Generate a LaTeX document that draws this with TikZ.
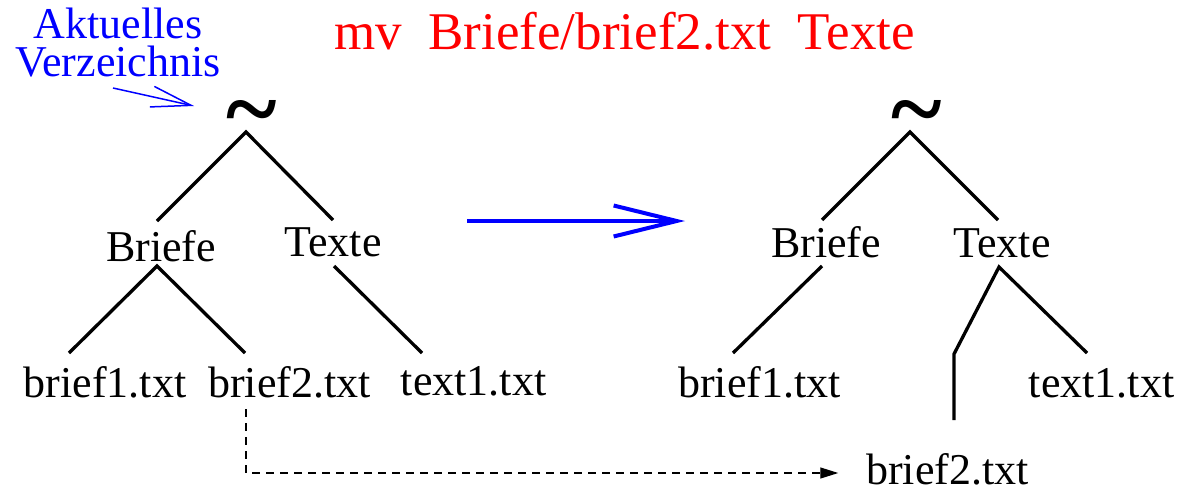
\documentclass[tikz,border=0pt]{standalone}
\usepackage{fontspec}
\setmainfont{Liberation Serif}
\usetikzlibrary{arrows.meta}
\begin{document}
\begin{tikzpicture}[x=1pt,y=-1pt,
  lbl/.style={anchor=base,inner sep=0pt,outer sep=0pt,font=\fontsize{44}{44}\selectfont},
  home/.style={anchor=base,inner sep=0pt,outer sep=0pt,font=\fontsize{97}{97}\selectfont\bfseries},
  branch/.style={line width=3.3pt},
  moved/.style={dashed,line width=1.2pt,dash pattern=on 8pt off 6pt,-{Triangle[length=18pt,width=11pt]}},
  cmdarrow/.style={blue,line width=4pt,-{Straight Barb[length=63pt,width=31pt]}},
  cwdarrow/.style={blue,line width=1.5pt,-{Straight Barb[length=40pt,width=21pt]}}]
\useasboundingbox (0,0) rectangle (1183,490);

% command line
\node[lbl,red,font=\fontsize{53}{53}\selectfont] (cmd) at (624.5,49) {mv~~Briefe/brief2.txt~~Texte};

% label for the working directory
\node[lbl,blue,align=center,font=\fontsize{44}{38}\selectfont] (cwd) at (118,76) {Aktuelles\\Verzeichnis};

% tree before the move
\node[home] (lt) at (252,141) {\textasciitilde};
\node[lbl] (lB) at (161,261) {Briefe};
\node[lbl] (lT) at (333,256) {Texte};
\node[lbl] (lb1) at (105,397) {brief1.txt};
\node[lbl] (lb2) at (289.5,397) {brief2.txt};
\node[lbl] (lt1) at (473.5,395) {text1.txt};

\draw[branch] ([shift={(-4pt,40pt)}]lB.base) -- ([shift={(-6pt,9pt)}]lt.base) -- ([shift={(0pt,36pt)}]lT.base);
\draw[branch] ([shift={(-36pt,44pt)}]lb1.base) -- ([shift={(-4pt,-5pt)}]lB.base) -- ([shift={(-44.5pt,44pt)}]lb2.base);
\draw[branch] ([shift={(1pt,-10pt)}]lT.base) -- ([shift={(-51.5pt,42pt)}]lt1.base);

\draw[cwdarrow] ([shift={(-5pt,-12pt)}]cwd.base) -- ([shift={(-58pt,35pt)}]lt.base);

% tree after the move
\node[home] (rt) at (917,141) {\textasciitilde};
\node[lbl] (rB) at (826,257) {Briefe};
\node[lbl] (rT) at (1002,257) {Texte};
\node[lbl] (rb1) at (759.5,397) {brief1.txt};
\node[lbl] (rt1) at (1101.5,397) {text1.txt};
\node[lbl] (rb2) at (947.5,484) {brief2.txt};

\draw[branch] ([shift={(-4pt,37pt)}]rB.base) -- ([shift={(-7pt,9pt)}]rt.base) -- ([shift={(-4pt,37pt)}]rT.base);
\draw[branch] ([shift={(-4pt,-9pt)}]rB.base) -- ([shift={(-26.5pt,44pt)}]rb1.base);
\draw[branch] ([shift={(6.5pt,64pt)}]rb2.base) -- ([shift={(6.5pt,130pt)}]rb2.base) -- ([shift={(-3pt,-10pt)}]rT.base) -- ([shift={(-14.5pt,44pt)}]rt1.base);

% the move itself
\coordinate (mvfrom) at (467,221);
\coordinate (mvto) at (685,221);
\draw[cmdarrow] (mvfrom) -- (mvto);
\draw[moved] ([shift={(-43.5pt,-12pt)}]lb2.base) |- ([shift={(-28pt,11pt)}]rb2.base west);
\end{tikzpicture}
\end{document}
